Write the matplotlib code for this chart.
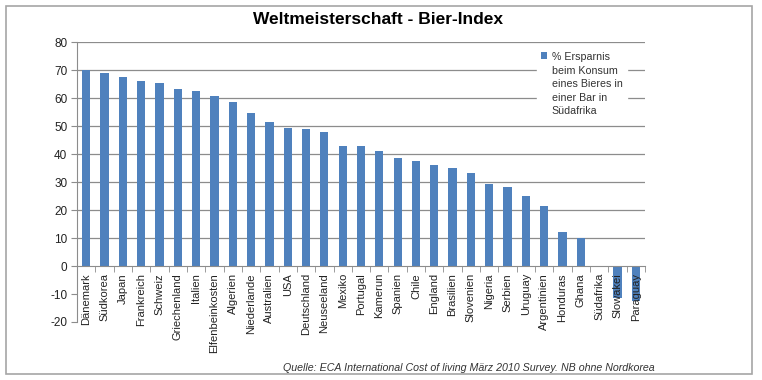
import matplotlib
matplotlib.use("Agg")
import matplotlib.pyplot as plt
from matplotlib.patches import Rectangle

plt.rcParams['font.family'] = ['Liberation Sans', 'DejaVu Sans']
plt.rcParams['axes.unicode_minus'] = False

laender = ['Dänemark', 'Südkorea', 'Japan', 'Frankreich', 'Schweiz', 'Griechenland',
           'Italien', 'Elfenbeinkosten', 'Algerien', 'Niederlande', 'Australien', 'USA',
           'Deutschland', 'Neuseeland', 'Mexiko', 'Portugal', 'Kamerun', 'Spanien',
           'Chile', 'England', 'Brasilien', 'Slovenien', 'Nigeria', 'Serbien',
           'Uruguay', 'Argentinien', 'Honduras', 'Ghana', 'Südafrika', 'Slowakei',
           'Paraguay']
ersparnis = [70.0, 69.0, 67.6, 66.1, 65.3, 63.4, 62.7, 60.8, 58.7, 54.8, 51.5, 49.2,
             48.9, 48.0, 42.9, 42.9, 41.0, 38.7, 37.6, 36.1, 34.9, 33.1, 29.4, 28.2,
             25.2, 21.5, 12.1, 10.0, 0.0, -11.5, -12.5]
y_ticks = [-20, -10, 0, 10, 20, 30, 40, 50, 60, 70, 80]

fig = plt.figure(figsize=(7.62, 3.8), dpi=100)
fig.patches.append(Rectangle((6 / 762, 6 / 380), 746 / 762, 368 / 380,
                             transform=fig.transFigure, fill=False,
                             edgecolor='#a6a6a6', linewidth=1.2))

ax = fig.add_axes([77 / 762, 1 - 322 / 380, 568 / 762, (322 - 42.3) / 380])
x = range(len(laender))

# gridlines by hand so the tick labels can sit above the bars
for yv in y_ticks:
    if yv > 0:
        ax.axhline(yv, color='#8c8c8c', linewidth=0.9, zorder=0.5)

ax.bar(x, ersparnis, width=0.45, color='#4f81bd', zorder=2,
       label='% Ersparnis\nbeim Konsum\neines Bieres in\neiner Bar in\nSüdafrika')

ax.set_xlim(-0.5, len(laender) - 0.5)
ax.set_ylim(-20, 80)
ax.set_yticks(y_ticks)
ax.set_axisbelow(False)

for s in ['top', 'right']:
    ax.spines[s].set_visible(False)
ax.spines['left'].set_color('#8c8c8c')
ax.spines['bottom'].set_color('#8c8c8c')
ax.spines['bottom'].set_position(('data', 0))

ax.set_xticks(list(x))
ax.set_xticklabels(laender, rotation=90, fontsize=8, color='#222222')
ax.tick_params(axis='x', which='major', length=0, pad=5)
ax.set_xticks([i - 0.5 for i in range(len(laender) + 1)], minor=True)
ax.tick_params(axis='x', which='minor', length=4, color='#8c8c8c', direction='out')
ax.tick_params(axis='y', length=4, color='#8c8c8c', labelsize=8.5,
               labelcolor='#222222', pad=3)

leg = ax.legend(loc='upper left', bbox_to_anchor=(0.8, 1.0), fontsize=7.7,
                frameon=True, facecolor='white', edgecolor='white', framealpha=1,
                handlelength=0.6, handleheight=0.6, handletextpad=0.4,
                borderpad=0.4, fancybox=False)
leg.set_zorder(5)
for t in leg.get_texts():
    t.set_color('#333333')
    t.set_linespacing(1.45)

# put the marker next to the first line, like Excel does
try:
    for col in leg._legend_handle_box.get_children():
        for row in col.get_children():
            row.align = 'top'
except AttributeError:
    pass

fig.text(378 / 762, 1 - 20 / 380, 'Weltmeisterschaft - Bier-Index', ha='center',
         va='center', fontsize=12.5, fontweight='bold')
fig.text(655 / 762, 1 - 368 / 380,
         'Quelle: ECA International Cost of living März 2010 Survey. NB ohne Nordkorea',
         ha='right', va='center', fontsize=7.7, style='italic', color='#333333')

fig.savefig('out.png', dpi=100)
